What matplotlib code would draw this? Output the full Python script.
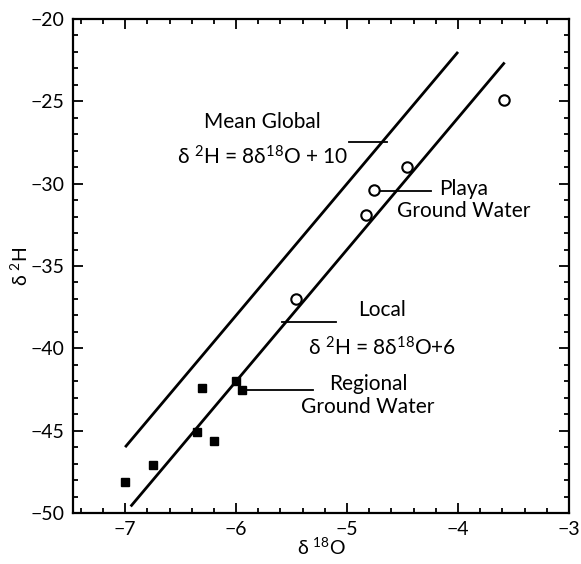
import matplotlib
matplotlib.use('Agg')
import matplotlib.pyplot as plt
from matplotlib.ticker import MultipleLocator

plt.rcParams['font.family'] = ['Lato', 'Noto Sans', 'DejaVu Sans']
plt.rcParams['mathtext.fontset'] = 'custom'
plt.rcParams['mathtext.rm'] = 'Lato'
plt.rcParams['mathtext.it'] = 'Lato'

# Playa ground water (open circles)
playa_d18o = [-3.59, -4.46, -4.76, -4.83, -5.46]
playa_d2h = [-24.9, -29.0, -30.4, -31.9, -37.0]

# Regional ground water (filled squares)
regional_d18o = [-7.0, -6.75, -6.31, -6.35, -6.2, -6.0, -5.95]
regional_d2h = [-48.1, -47.1, -42.4, -45.1, -45.6, -42.0, -42.5]

# meteoric water lines: d2H = slope * d18O + intercept
global_x = [-7.0, -4.0]
global_slope, global_intercept = 8, 10
local_x = [-6.95, -3.58]
local_slope, local_intercept = 8, 6

fig = plt.figure(figsize=(5.81, 5.64), dpi=100)
ax = fig.add_axes([0.1256, 0.0904, 0.8537, 0.8759])

ax.plot(global_x, [global_slope * x + global_intercept for x in global_x],
        color='black', lw=2.0, solid_capstyle='butt')
ax.plot(local_x, [local_slope * x + local_intercept for x in local_x],
        color='black', lw=2.0, solid_capstyle='butt')

ax.plot(playa_d18o, playa_d2h, 'o', ms=7.5, mfc='white', mec='black', mew=1.5, zorder=3)
ax.plot(regional_d18o, regional_d2h, 's', ms=6, mfc='black', mec='black', zorder=3)

# annotations and leader lines
fs = 15
ax.text(-5.76, -26.26, 'Mean Global', ha='center', va='center', fontsize=fs)
ax.text(-5.76, -28.38, 'δ $^{\\mathrm{2}}$H = 8δ$^{\\mathrm{18}}$O + 10', ha='center', va='center', fontsize=fs)
ax.plot([-4.98, -4.64], [-27.47, -27.47], color='black', lw=1.3)

ax.text(-3.95, -30.99, 'Playa\nGround Water', ha='center', va='center',
        fontsize=fs, linespacing=1.15)
ax.plot([-4.70, -4.24], [-30.43, -30.43], color='black', lw=1.3)

ax.text(-4.68, -37.67, 'Local', ha='center', va='center', fontsize=fs)
ax.text(-4.68, -39.98, 'δ $^{\\mathrm{2}}$H = 8δ$^{\\mathrm{18}}$O+6', ha='center', va='center', fontsize=fs)
ax.plot([-5.59, -5.10], [-38.38, -38.38], color='black', lw=1.3)

ax.text(-4.81, -42.87, 'Regional\nGround Water', ha='center', va='center',
        fontsize=fs, linespacing=1.15)
ax.plot([-5.90, -5.31], [-42.53, -42.53], color='black', lw=1.3)

ax.set_xlim(-7.47, -3)
ax.set_ylim(-50, -20)
ax.xaxis.set_major_locator(MultipleLocator(1))
ax.xaxis.set_minor_locator(MultipleLocator(0.2))
ax.yaxis.set_major_locator(MultipleLocator(5))
ax.yaxis.set_minor_locator(MultipleLocator(1))
ax.tick_params(which='both', direction='in', top=True, right=True, width=1.3, labelsize=14)
ax.tick_params(which='major', length=7, pad=6)
ax.tick_params(which='minor', length=3.5)
for sp in ax.spines.values():
    sp.set_linewidth(1.6)

ax.set_xlabel('δ $^{\\mathrm{18}}$O', fontsize=14, labelpad=-1)
ax.set_ylabel('δ $^{\\mathrm{2}}$H', fontsize=14, labelpad=0)

fig.savefig('out.png', dpi=100)
